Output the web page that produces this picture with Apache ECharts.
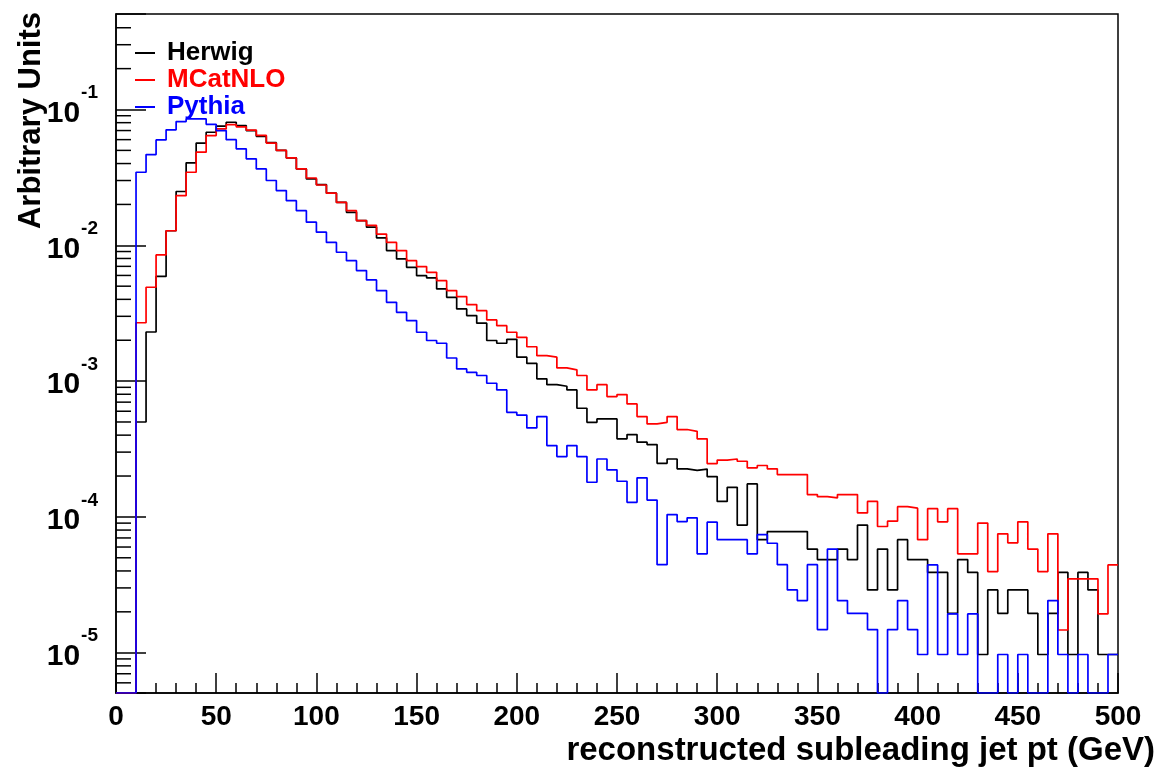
<!DOCTYPE html>
<html>
<head>
<meta charset="utf-8">
<script src="https://cdn.jsdelivr.net/npm/echarts@6/dist/echarts.min.js"></script>
<style>
html,body{margin:0;padding:0;background:#fff;}
#chart{width:1160px;height:771px;}
</style>
</head>
<body>
<div id="chart"></div>
<script>
// ---- data (histogram, 5 GeV bins, lower edges 0..495) ----
const binWidth = 5;
const seriesNames = ['Herwig', 'MCatNLO', 'Pythia'];
const seriesColors = ['#000000', '#ff0000', '#0000ff'];

const herwig = [
  0, 0, 0.0005, 0.0023, 0.0059, 0.0128, 0.0249, 0.0405, 0.0566, 0.068,
  0.0755, 0.0806, 0.0762, 0.070, 0.0635, 0.057, 0.050, 0.044, 0.0365, 0.0308,
  0.028, 0.0242, 0.0207, 0.0175, 0.0152, 0.0136, 0.01135, 0.00914, 0.00794, 0.00689,
  0.00598, 0.00575, 0.00477, 0.00414, 0.0034, 0.00304, 0.00267, 0.00199, 0.0019, 0.00203,
  0.0015, 0.00135, 0.00104, 0.000942, 0.000916, 0.000861, 0.000631, 0.000497, 0.000527, 0.000527,
  0.000376, 0.000404, 0.000355, 0.000341, 0.000248, 0.000267, 0.000226, 0.00022, 0.000225, 0.000198,
  0.00013, 0.000165, 8.7e-5, 0.000175, 6.8e-5, 7.8e-5, 7.8e-5, 7.8e-5, 7.8e-5, 5.8e-5,
  4.85e-5, 4.85e-5, 5.8e-5, 4.85e-5, 8.7e-5, 2.9e-5, 5.8e-5, 2.9e-5, 6.8e-5, 4.85e-5,
  4.85e-5, 3.9e-5, 3.9e-5, 1.95e-5, 4.85e-5, 3.9e-5, 9.7e-6, 2.9e-5, 1.95e-5, 2.9e-5,
  2.9e-5, 1.95e-5, 9.7e-6, 1.95e-5, 3.9e-5, 9.7e-6, 3.9e-5, 2.9e-5, 9.7e-6, 9.7e-6
];

const mcatnlo = [
  0, 0, 0.00269, 0.00491, 0.0085, 0.0128, 0.0232, 0.0345, 0.0485, 0.0643,
  0.072, 0.0775, 0.0745, 0.0705, 0.0645, 0.0566, 0.050, 0.044, 0.0365, 0.0313,
  0.0278, 0.0242, 0.0207, 0.018, 0.0152, 0.014, 0.0121, 0.0105, 0.00914, 0.00771,
  0.00697, 0.00633, 0.00549, 0.00464, 0.00419, 0.00366, 0.0033, 0.00282, 0.00256, 0.00229,
  0.0021, 0.00179, 0.00154, 0.0015, 0.00125, 0.00121, 0.0011, 0.000861, 0.000942, 0.000769,
  0.000796, 0.000679, 0.000548, 0.000484, 0.000497, 0.000548, 0.00044, 0.000427, 0.000376, 0.000247,
  0.000262, 0.000267, 0.000257, 0.00023, 0.000239, 0.000226, 0.000205, 0.000205, 0.000205, 0.000146,
  0.000141, 0.000138, 0.000146, 0.000146, 0.000107, 0.00013, 8.5e-5, 9.3e-5, 0.000119, 0.000116,
  6.8e-5, 0.000115, 9.2e-5, 0.000115, 5.35e-5, 5.35e-5, 9.0e-5, 3.96e-5, 7.5e-5, 6.44e-5,
  9.2e-5, 5.8e-5, 3.96e-5, 7.5e-5, 1.47e-5, 3.5e-5, 3.5e-5, 3.5e-5, 1.93e-5, 4.43e-5
];

const pythia = [
  0, 0, 0.0345, 0.0466, 0.0597, 0.0708, 0.0815, 0.0853, 0.0853, 0.0778,
  0.070, 0.060, 0.0513, 0.0433, 0.0365, 0.030, 0.0253, 0.0213, 0.018, 0.0148,
  0.0125, 0.0105, 0.00889, 0.00771, 0.00651, 0.00556, 0.00464, 0.0038, 0.00321, 0.00279,
  0.00229, 0.00199, 0.0019, 0.00148, 0.00123, 0.00116, 0.0011, 0.000964, 0.000861, 0.000589,
  0.000562, 0.000452, 0.000548, 0.000335, 0.000278, 0.000335, 0.000278, 0.00018, 0.000267, 0.000222,
  0.000183, 0.000128, 0.000194, 0.000133, 4.45e-5, 0.000104, 9.24e-5, 9.84e-5, 5.35e-5, 9.14e-5,
  6.8e-5, 6.8e-5, 6.8e-5, 5.35e-5, 7.4e-5, 6.4e-5, 4.45e-5, 2.9e-5, 2.42e-5, 4.45e-5,
  1.48e-5, 5.8e-5, 2.42e-5, 1.95e-5, 1.95e-5, 1.48e-5, 0, 1.48e-5, 2.42e-5, 1.48e-5,
  9.7e-6, 4.43e-5, 9.7e-6, 1.93e-5, 9.7e-6, 1.93e-5, 0, 0, 9.7e-6, 0,
  9.7e-6, 0, 0, 2.42e-5, 9.7e-6, 0, 9.7e-6, 0, 0, 9.7e-6
];

// axis ranges / ticks
const xMin = 0, xMax = 500, xInterval = 50;
const yMin = 5.05e-6, yMax = 0.505;
const yMinorTicks = [
  6e-6, 7e-6, 8e-6, 9e-6,
  2e-5, 3e-5, 4e-5, 5e-5, 6e-5, 7e-5, 8e-5, 9e-5,
  2e-4, 3e-4, 4e-4, 5e-4, 6e-4, 7e-4, 8e-4, 9e-4,
  2e-3, 3e-3, 4e-3, 5e-3, 6e-3, 7e-3, 8e-3, 9e-3,
  2e-2, 3e-2, 4e-2, 5e-2, 6e-2, 7e-2, 8e-2, 9e-2,
  2e-1, 3e-1, 4e-1
];

const xTitle = 'reconstructed subleading jet pt (GeV)';
const yTitle = 'Arbitrary Units';

// ---- build step data ----
function histPoints(vals) {
  const pts = [];
  for (let i = 0; i < vals.length; i++) {
    const v = vals[i] > 0 ? vals[i] : yMin; // empty bins sit on the axis floor (as ROOT draws them)
    pts.push([i * binWidth, v]);
  }
  const last = vals[vals.length - 1] > 0 ? vals[vals.length - 1] : yMin;
  pts.push([vals.length * binWidth, last]);
  return pts;
}

const FONT = '"Liberation Sans", Arial, Helvetica, sans-serif';
const allData = [herwig, mcatnlo, pythia];

const series = seriesNames.map((name, k) => ({
  name: name,
  type: 'line',
  step: 'end',
  symbol: 'none',
  showSymbol: false,
  data: histPoints(allData[k]),
  lineStyle: { color: seriesColors[k], width: 1.7 },
  itemStyle: { color: seriesColors[k] },
  clip: true,
  z: 3 + k
}));

series.push({
  name: 'yminor',
  type: 'custom',
  silent: true,
  clip: false,
  z: 10,
  data: yMinorTicks.map(v => [xMin, v]),
  encode: { x: 0, y: 1 },
  renderItem: function (params, api) {
    const p = api.coord([api.value(0), api.value(1)]);
    return {
      type: 'line',
      shape: { x1: p[0], y1: p[1], x2: p[0] + 15, y2: p[1] },
      style: { stroke: '#000', lineWidth: 1.5 }
    };
  }
});

const chart = echarts.init(document.getElementById('chart'), null, { renderer: 'canvas' });
chart.setOption({
  animation: false,
  backgroundColor: '#ffffff',
  grid: {
    left: 116, right: 42, top: 14, bottom: 78,
    show: true, borderColor: '#000', borderWidth: 1.5, backgroundColor: 'transparent'
  },
  legend: {
    orient: 'vertical',
    left: 130,
    top: 35,
    itemGap: 1,
    itemWidth: 20,
    itemHeight: 2,
    icon: 'rect',
    data: seriesNames.map((n, k) => ({
      name: n,
      icon: 'rect',
      itemStyle: { color: seriesColors[k] },
      textStyle: { color: seriesColors[k] }
    })),
    textStyle: {
      fontFamily: FONT, fontWeight: 'bold', fontSize: 26, lineHeight: 26,
      padding: [0, 0, 0, 7]
    }
  },
  xAxis: {
    type: 'value',
    min: xMin, max: xMax, interval: xInterval,
    axisLine: { show: true, onZero: false, lineStyle: { color: '#000', width: 1.5 } },
    axisTick: { show: true, inside: true, length: 20, lineStyle: { color: '#000', width: 1.5 } },
    minorTick: { show: true, splitNumber: 5, length: 10, lineStyle: { color: '#000', width: 1.5 } },
    splitLine: { show: false },
    axisLabel: {
      show: true, margin: 10, color: '#000',
      fontFamily: FONT, fontWeight: 'bold', fontSize: 28
    }
  },
  yAxis: {
    type: 'log',
    logBase: 10,
    min: yMin, max: yMax,
    axisLine: { show: true, onZero: false, lineStyle: { color: '#000', width: 1.5 } },
    axisTick: { show: true, inside: true, length: 30, lineStyle: { color: '#000', width: 1.5 } },
    splitLine: { show: false },
    axisLabel: {
      show: true, margin: 18,
      padding: [0, 0, 7, 0],
      formatter: function (v) {
        const e = Math.log10(v);
        const r = Math.round(e);
        if (Math.abs(e - r) > 1e-6) return '';
        return '{b|10}{s|' + r + '}';
      },
      rich: {
        b: { fontFamily: FONT, fontWeight: 'bold', fontSize: 30, color: '#000',
             verticalAlign: 'bottom', lineHeight: 45 },
        s: { fontFamily: FONT, fontWeight: 'bold', fontSize: 19, color: '#000',
             verticalAlign: 'top', lineHeight: 19, padding: [0, 0, 0, 1] }
      }
    }
  },
  graphic: [
    {
      type: 'text', x: 1155, y: 751, z: 100,
      style: { text: xTitle, align: 'right', verticalAlign: 'middle', fill: '#000',
               font: 'bold 33px ' + FONT }
    },
    {
      type: 'text', x: 31, y: 12, rotation: Math.PI / 2, z: 100,
      style: { text: yTitle, align: 'right', verticalAlign: 'middle', fill: '#000',
               font: 'bold 31px ' + FONT }
    }
  ],
  series: series
});
</script>
</body>
</html>
